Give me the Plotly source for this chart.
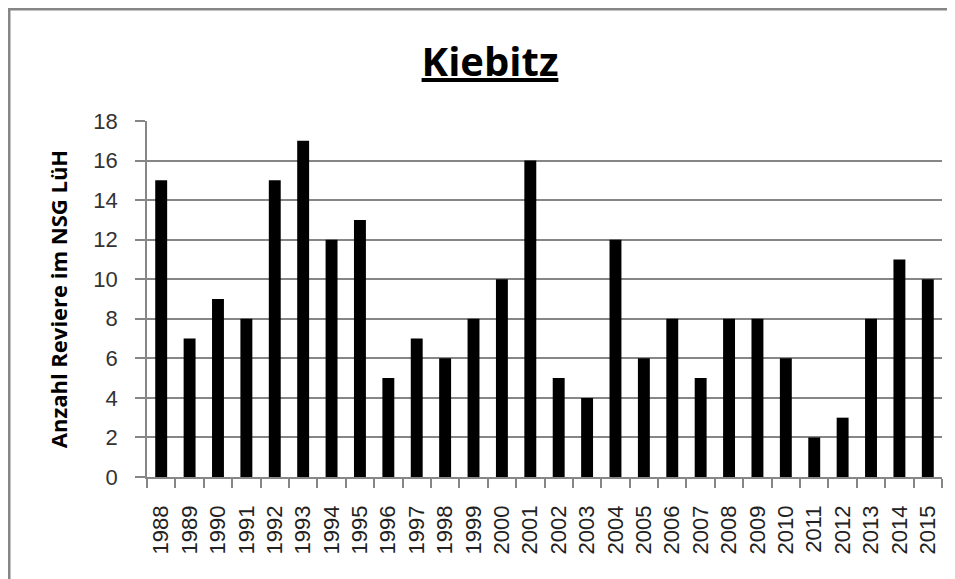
import plotly.graph_objects as go

years = [str(y) for y in range(1988, 2016)]
reviere = [15, 7, 9, 8, 15, 17, 12, 13, 5, 7, 6, 8, 10, 16, 5, 4, 12, 6, 8, 5, 8, 8, 6, 2, 3, 8, 11, 10]
y_ticks = [0, 2, 4, 6, 8, 10, 12, 14, 16, 18]

# page body has an 8px margin, so the figure is drawn 8px smaller and offset
OFF = 8
W, H = 955 - OFF, 579 - OFF
L = 147 - OFF
T = 121 - OFF
R = W - (942 - OFF)
B = H - (477 - OFF)
pw, ph = W - L - R, H - T - B

fig = go.Figure(go.Bar(x=years, y=reviere, marker=dict(color="black", line=dict(width=0)), width=0.42))

font = "Liberation Sans, Arial, sans-serif"
bold_font = "Open Sans, Liberation Sans, sans-serif"
fig.update_layout(
    width=W, height=H,
    margin=dict(l=L, r=R, t=T, b=B, autoexpand=False),
    paper_bgcolor="white", plot_bgcolor="white",
    showlegend=False,
    title=dict(text="<u><b>Kiebitz</b></u>", x=(490 - OFF) / W, xanchor="center", xref="container",
               y=1 - (62 - OFF) / H, yanchor="middle", yref="container",
               font=dict(family=bold_font, size=40, color="black")),
    xaxis=dict(type="category", tickangle=-90, showline=True, linecolor="#868686", linewidth=1.5,
               ticks="outside", tickson="boundaries", ticklen=9, tickcolor="#868686", tickwidth=1.5,
               tickfont=dict(family=font, size=22, color="#222222"), ticklabelstandoff=18,
               showgrid=False, automargin=False),
    yaxis=dict(range=[0, 18], tickvals=y_ticks, showline=True, linecolor="#868686", linewidth=1.5,
               ticks="outside", ticklen=10, tickcolor="#868686", tickwidth=1.5,
               showgrid=True, gridcolor="#868686", gridwidth=1.5, zeroline=False,
               tickfont=dict(family=font, size=22, color="#333333"), ticklabelstandoff=13,
               automargin=False,
               title=dict(text="<b>Anzahl Reviere im NSG LüH</b>", standoff=20,
                          font=dict(family=bold_font, size=22, color="black"))),
)

# outer chart border
fig.add_shape(type="rect", xref="paper", yref="paper",
              x0=(9 - OFF - L) / pw, x1=(W + 20 - L) / pw,
              y0=-(H + 20 - (H - B)) / ph, y1=(H - B - (9 - OFF)) / ph,
              line=dict(color="#868686", width=3), fillcolor="rgba(0,0,0,0)", layer="below")

fig.write_html("out.html")
